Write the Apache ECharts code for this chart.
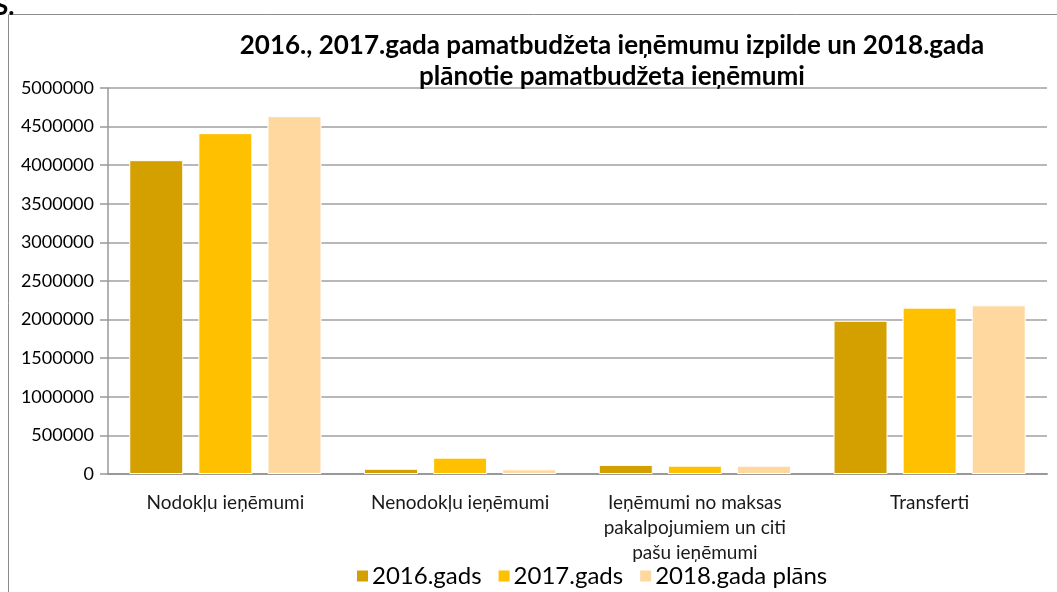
<!DOCTYPE html>
<html>
<head>
<meta charset="utf-8">
<script src="https://cdn.jsdelivr.net/npm/echarts@6/dist/echarts.min.js"></script>
<style>
  html, body { margin: 0; padding: 0; background: #fff; overflow: hidden; }
  #mainChart { width: 1057px; height: 592px; }
</style>
</head>
<body>
<div id="mainChart"></div>
<script>
// kategorijas un vērtības
var categories = [
  'Nodokļu ieņēmumi',
  'Nenodokļu ieņēmumi',
  'Ieņēmumi no maksas\npakalpojumiem un citi\npašu ieņēmumi',
  'Transferti'
]
var seriesNames = ['2016.gads', '2017.gads', '2018.gada plāns']
var values2016 = [4065000, 68000, 118000, 1985000]
var values2017 = [4415000, 212000, 108000, 2155000]
var values2018 = [4635000, 60000, 108000, 2185000]
var colors = ['#D4A000', '#FFC000', '#FFD89F']

var font = 'Lato, "Open Sans", sans-serif'
var chartDom = document.getElementById('mainChart')
var myChart = echarts.init(chartDom)

function bar(name, data, color) {
  return {
    name: name,
    type: 'bar',
    data: data,
    barWidth: '23%',
    barGap: '28%',
    itemStyle: { color: color, borderColor: '#fff', borderWidth: 1 }
  }
}

var option = {
  animation: false,
  textStyle: { fontFamily: font },
  title: {
    text: '2016., 2017.gada pamatbudžeta ieņēmumu izpilde un 2018.gada\nplānotie pamatbudžeta ieņēmumi',
    left: 607,
    textAlign: 'center',
    top: 25,
    textStyle: { fontSize: 26, fontWeight: 'bold', color: '#000', lineHeight: 31, fontFamily: font }
  },
  graphic: [
    {
      // ārējais rāmis (tikai augša un kreisā mala redzamas)
      type: 'polyline',
      shape: { points: [[8.5, 600], [8.5, 14.5], [1060, 14.5]] },
      style: { fill: 'none', stroke: '#8c8c8c', lineWidth: 1 },
      silent: true
    },
    {
      type: 'text',
      left: -6,
      top: -6,
      style: { text: 'S.', fontSize: 26, fontWeight: 'bold', fill: '#000', fontFamily: font }
    }
  ],
  legend: {
    left: 350,
    top: 559,
    itemWidth: 13,
    itemHeight: 13,
    itemGap: 15,
    icon: 'rect',
    textStyle: { fontSize: 24, color: '#000', fontFamily: font, padding: [0, 0, 0, -2] },
    data: seriesNames
  },
  grid: { left: 108, right: 10, top: 88, bottom: 118 },
  xAxis: {
    type: 'category',
    data: categories,
    axisLine: { lineStyle: { color: '#999', width: 2 } },
    axisTick: { show: false },
    axisLabel: {
      interval: 0,
      fontSize: 19,
      color: '#1a1a1a',
      margin: 16,
      lineHeight: 25,
      fontFamily: font
    }
  },
  yAxis: {
    type: 'value',
    min: 0,
    max: 5000000,
    interval: 500000,
    axisLine: { show: true, lineStyle: { color: '#999', width: 1.5 } },
    axisTick: { show: true, length: 8, lineStyle: { color: '#999', width: 1.5 } },
    axisLabel: {
      fontSize: 18,
      color: '#000',
      margin: 14,
      fontFamily: font,
      formatter: function (v) { return String(v) }
    },
    splitLine: { lineStyle: { color: '#a0a0a0', width: 1.5 } }
  },
  series: [
    bar(seriesNames[0], values2016, colors[0]),
    bar(seriesNames[1], values2017, colors[1]),
    bar(seriesNames[2], values2018, colors[2])
  ]
}
myChart.setOption(option)
</script>
</body>
</html>
